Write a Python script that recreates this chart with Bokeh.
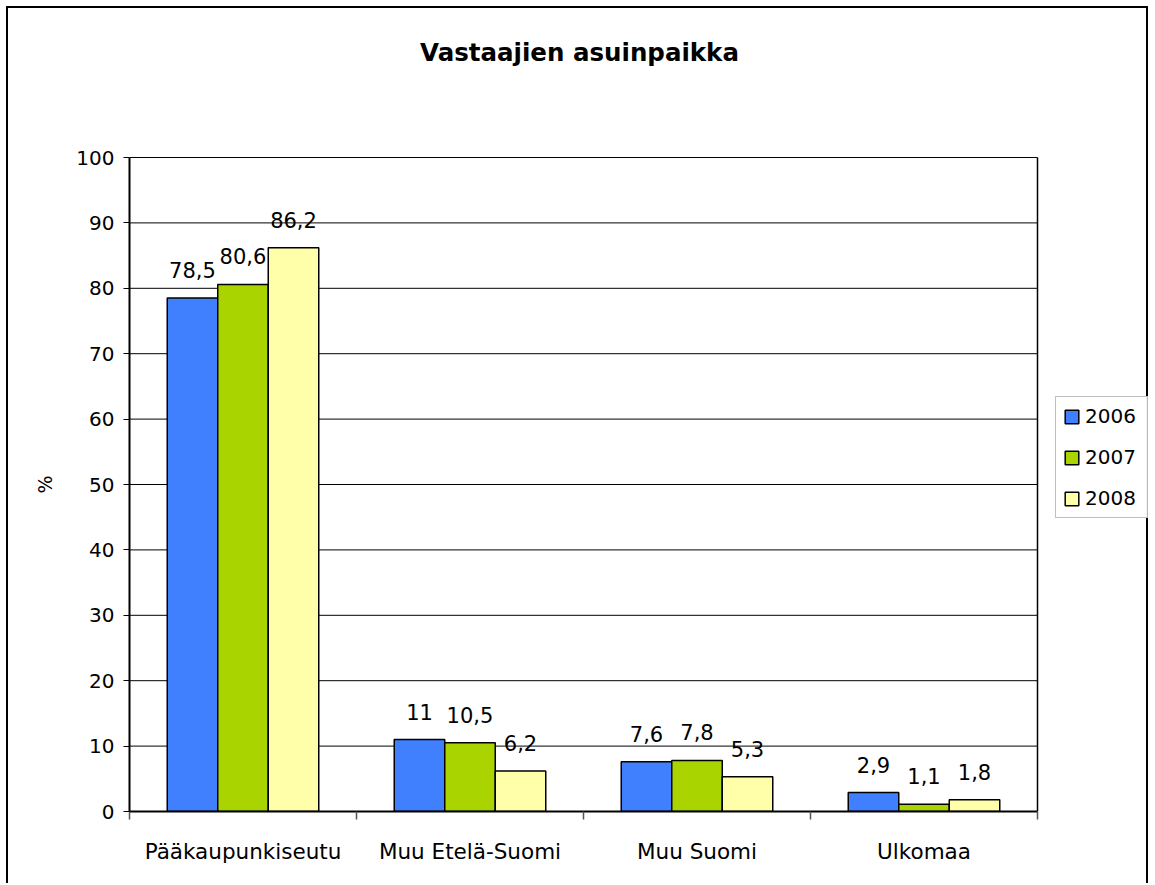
from bokeh.plotting import figure
from bokeh.models import Range1d, FixedTicker, Legend, LegendItem, Label, Title
from bokeh.embed import file_html
from bokeh.resources import INLINE
from bokeh.core.properties import value

categories = ["Pääkaupunkiseutu", "Muu Etelä-Suomi", "Muu Suomi", "Ulkomaa"]
years = ["2006", "2007", "2008"]
v2006 = [78.5, 11, 7.6, 2.9]
v2007 = [80.6, 10.5, 7.8, 1.1]
v2008 = [86.2, 6.2, 5.3, 1.8]
y_ticks = [0, 10, 20, 30, 40, 50, 60, 70, 80, 90, 100]
title_text = "Vastaajien asuinpaikka"
y_label = "%"

colors = ["#4080ff", "#aad400", "#ffffaa"]
FONT = "DejaVu Sans"
BAR_W = 0.2225

# pixel layout of the canvas (canvas is 1142 x 877)
W, H = 1142, 877
PLOT_L, PLOT_R = 121, 1029      # plot-area left/right inside canvas
PLOT_T, PLOT_B = 149, 803       # plot-area top/bottom inside canvas
n = len(categories)
ymax = y_ticks[-1]
x_end = n * (W - PLOT_L) / (PLOT_R - PLOT_L)
y_end = ymax * PLOT_B / (PLOT_B - PLOT_T)

p = figure(width=W, height=H, x_range=Range1d(0, x_end), y_range=Range1d(0, y_end),
           output_backend="svg", toolbar_location=None,
           min_border_left=PLOT_L, min_border_right=0, min_border_top=0,
           min_border_bottom=H - PLOT_B)
p.styles = {"border-top": "2px solid black", "border-left": "2px solid black",
            "border-right": "2px solid black", "margin-left": "6px", "margin-top": "6px"}
p.background_fill_color = "white"
p.border_fill_color = "white"
p.outline_line_color = None

# plot-area gridlines and right border, limited to the category span
p.segment(x0=[0] * (len(y_ticks) - 1), x1=[n] * (len(y_ticks) - 1), y0=y_ticks[1:], y1=y_ticks[1:],
          line_color="black", line_width=1)
p.segment(x0=[n], x1=[n], y0=[0], y1=[ymax], line_color="black", line_width=1.5)

renderers = []
series = [v2006, v2007, v2008]
for j, (yr, vals, col) in enumerate(zip(years, series, colors)):
    xs = [i + 0.5 + (j - 1) * BAR_W for i in range(n)]
    r = p.vbar(x=xs, top=vals, width=BAR_W, fill_color=col, line_color="black", line_width=1.5)
    renderers.append(r)
    txt = [f"{v:g}".replace(".", ",") for v in vals]
    p.text(x=xs, y=vals, text=txt, text_align="center", text_baseline="bottom", y_offset=-20,
           text_font=value(FONT), text_font_size="21px", text_color="black")

# x axis: labels at centers, ticks at boundaries
centers = [i + 0.5 for i in range(n)]
bounds = [i for i in range(n + 1)]
p.xaxis.bounds = (0, n)
p.xaxis.ticker = FixedTicker(ticks=centers, minor_ticks=bounds)
p.xaxis.major_label_overrides = {c: name for c, name in zip(centers, categories)}
p.xaxis.major_tick_out = 0
p.xaxis.major_tick_in = 0
p.xaxis.minor_tick_out = 8
p.xaxis.minor_tick_in = 0
p.xaxis.minor_tick_line_color = "#555555"
p.xaxis.minor_tick_line_width = 1.5
p.xaxis.axis_line_color = "black"
p.xaxis.axis_line_width = 2
p.xaxis.major_label_standoff = 19
p.xaxis.major_label_text_font = FONT
p.xaxis.major_label_text_font_size = "21.5px"
p.xaxis.major_label_text_color = "black"

p.yaxis.bounds = (0, ymax)
p.yaxis.ticker = FixedTicker(ticks=y_ticks)
p.yaxis.major_tick_out = 6
p.yaxis.major_tick_in = 0
p.yaxis.major_tick_line_color = "black"
p.yaxis.minor_tick_line_color = None
p.yaxis.axis_line_color = "black"
p.yaxis.axis_line_width = 2
p.yaxis.major_label_standoff = 9
p.yaxis.major_label_text_font = FONT
p.yaxis.major_label_text_font_size = "20px"
p.yaxis.major_label_text_color = "black"

p.xgrid.grid_line_color = None
p.ygrid.grid_line_color = None

# y-axis label as a side title, positioned along the 0..100 span
p.add_layout(Title(text=y_label, align="left", offset=318, standoff=36, text_font=FONT,
                   text_font_size="19px", text_font_style="normal", text_color="black"), "left")

p.add_layout(Label(x=n / 2, y=ymax + 16, x_offset=-4, text=title_text, text_align="center",
                   text_baseline="middle", text_font=FONT, text_font_size="24.5px",
                   text_font_style="bold", text_color="black"))

legend = Legend(items=[LegendItem(label=yr, renderers=[r]) for yr, r in zip(years, renderers)],
                location=(926, 293), orientation="vertical")
legend.label_text_font = FONT
legend.label_text_font_size = "20px"
legend.label_text_color = "black"
legend.glyph_width = 17
legend.glyph_height = 17
legend.label_height = 20
legend.label_width = 55
legend.spacing = 17
legend.padding = 7
legend.margin = 0
legend.label_standoff = 5
legend.border_line_color = "#7f7f7f"
legend.border_line_width = 1
legend.background_fill_color = "white"
p.add_layout(legend)

open("out.html", "w").write(file_html(p, INLINE))
